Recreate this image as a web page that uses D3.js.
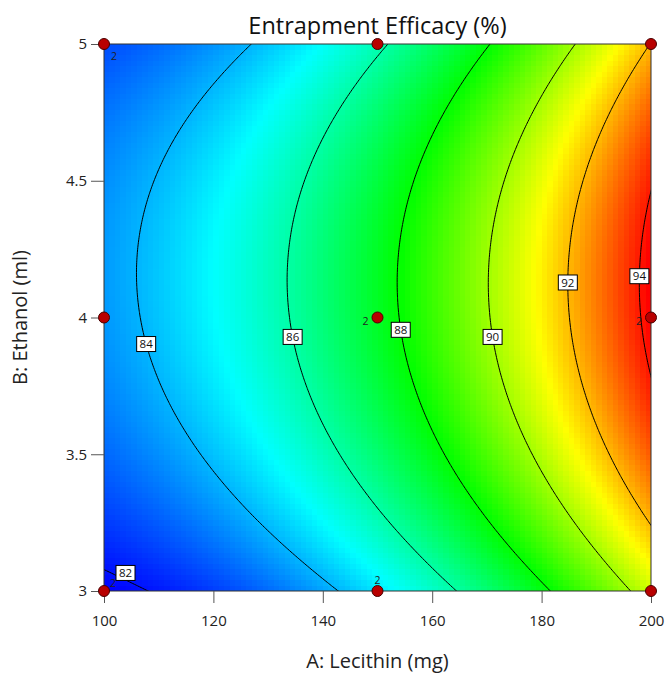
<!DOCTYPE html>
<html>
<head>
<meta charset="utf-8">
<script src="https://cdn.jsdelivr.net/npm/d3@7"></script>
<style>
  body { margin: 0; background: #fff; }
  svg text { font-family: "Open Sans", "Noto Sans", sans-serif; }
</style>
</head>
<body>
<svg id="chart" width="667" height="675"></svg>
<script>
// ---- Factor ranges (actual units) ----
const lecithinRange = [100, 200];      // A: Lecithin (mg)
const ethanolRange = [3, 5];           // B: Ethanol (ml)

// ---- Fitted response-surface model, coded factors a, b in [-1, 1] ----
const modelTerms        = ["Intercept", "A", "B", "AB", "A²", "B²", "AB²", "A²B²"];
const modelCoefficients = [87.57, 5.33, 0.61, 0.13, 1.40, -2.36, -0.80, 0.15];
const termPowerA        = [0, 1, 0, 1, 2, 0, 1, 2];
const termPowerB        = [0, 0, 1, 1, 0, 2, 2, 2];

// ---- Contour levels and the ethanol level where each label sits ----
const contourLevels = [82, 84, 86, 88, 90, 92, 94];
const labelEthanol  = [3.066, 3.903, 3.929, 3.955, 3.929, 4.128, 4.151];

// ---- Design points (runs) and replicate counts ----
const designLecithin = [100, 100, 100, 150, 150, 150, 200, 200, 200];
const designEthanol  = [3, 4, 5, 3, 4, 5, 3, 4, 5];
const designReps     = [2, 1, 2, 2, 2, 1, 1, 2, 1];

// ---- Axis ticks ----
const lecithinTicks = [100, 120, 140, 160, 180, 200];
const ethanolTicks  = [3, 3.5, 4, 4.5, 5];

const titleText = "Entrapment Efficacy (%)";
const xTitle = "A: Lecithin (mg)";
const yTitle = "B: Ethanol (ml)";

// ---------------------------------------------------------------
const W = 667, H = 675;
const margin = { top: 44, right: 16, bottom: 84, left: 104 };
const pw = W - margin.left - margin.right;
const ph = H - margin.top - margin.bottom;

const svg = d3.select("#chart");
const g = svg.append("g").attr("transform", `translate(${margin.left},${margin.top})`);

const x = d3.scaleLinear().domain(lecithinRange).range([0, pw]);
const y = d3.scaleLinear().domain(ethanolRange).range([ph, 0]);

// coded factor scales
const codeA = d3.scaleLinear().domain(lecithinRange).range([-1, 1]);
const codeB = d3.scaleLinear().domain(ethanolRange).range([-1, 1]);

function predict(A, B) {
  const a = codeA(A), b = codeB(B);
  let s = 0;
  for (let k = 0; k < modelCoefficients.length; k++) {
    s += modelCoefficients[k] * Math.pow(a, termPowerA[k]) * Math.pow(b, termPowerB[k]);
  }
  return s;
}

// ---- Colour cells ----
const nCells = 100;
const cellA = d3.scaleLinear().domain([0, nCells]).range(lecithinRange);
const cellB = d3.scaleLinear().domain([0, nCells]).range(ethanolRange);
const cells = [];
for (let j = 0; j < nCells; j++) {
  for (let i = 0; i < nCells; i++) {
    cells.push({ i, j, v: predict(cellA(i + 0.5), cellB(j + 0.5)) });
  }
}
const ext = d3.extent(cells, d => d.v);
const colorStops = ["#0000ff", "#00ffff", "#00ff00", "#ffff00", "#ff0000"];
const color = d3.scaleLinear()
  .domain(d3.range(colorStops.length).map(k => ext[0] + k * (ext[1] - ext[0]) / (colorStops.length - 1)))
  .range(colorStops)
  .clamp(true);

g.append("g").attr("shape-rendering", "crispEdges")
  .selectAll("rect").data(cells).join("rect")
  .attr("x", d => x(cellA(d.i)))
  .attr("y", d => y(cellB(d.j + 1)))
  .attr("width", d => x(cellA(d.i + 1)) - x(cellA(d.i)) + 0.3)
  .attr("height", d => y(cellB(d.j)) - y(cellB(d.j + 1)) + 0.3)
  .attr("fill", d => color(d.v));

// ---- Contour lines (computed over a slightly wider grid, then clipped) ----
svg.append("defs").append("clipPath").attr("id", "plotClip")
  .append("rect").attr("width", pw).attr("height", ph);

const N = 241;
const gridA = d3.scaleLinear().domain([0.5, N - 0.5]).range([lecithinRange[0] - 5, lecithinRange[1] + 5]);
const gridB = d3.scaleLinear().domain([0.5, N - 0.5]).range([ethanolRange[1] + 0.1, ethanolRange[0] - 0.1]);
const values = new Array(N * N);
for (let r = 0; r < N; r++) {
  for (let c = 0; c < N; c++) {
    values[r * N + c] = predict(gridA(c + 0.5), gridB(r + 0.5));
  }
}
const contours = d3.contours().size([N, N]).thresholds(contourLevels)(values);
const proj = d3.geoTransform({
  point: function (px, py) { this.stream.point(x(gridA(px)), y(gridB(py))); }
});
const path = d3.geoPath(proj);

g.append("g").attr("clip-path", "url(#plotClip)")
  .selectAll("path").data(contours).join("path")
  .attr("d", path)
  .attr("fill", "none")
  .attr("stroke", "#000")
  .attr("stroke-width", 1);

// ---- Contour labels ----
function lecithinOnContour(level, B) {
  let lo = lecithinRange[0], hi = lecithinRange[1];
  let flo = predict(lo, B) - level;
  for (let k = 0; k < 60; k++) {
    const mid = (lo + hi) / 2;
    const fm = predict(mid, B) - level;
    if ((fm < 0) === (flo < 0)) { lo = mid; flo = fm; } else { hi = mid; }
  }
  return (lo + hi) / 2;
}
const boxW = 19, boxH = 15;
const labels = g.append("g").selectAll("g")
  .data(contourLevels.map((lv, k) => ({ lv, A: lecithinOnContour(lv, labelEthanol[k]), B: labelEthanol[k] })))
  .join("g")
  // keep each box clear of the left frame and its corner run marker
  .attr("transform", d => `translate(${Math.max(x(d.A), boxW / 2 + 12)},${y(d.B)})`);
labels.append("rect")
  .attr("x", -boxW / 2).attr("y", -boxH / 2).attr("width", boxW).attr("height", boxH)
  .attr("fill", "#fff").attr("stroke", "#000").attr("stroke-width", 1);
labels.append("text")
  .attr("text-anchor", "middle").attr("dy", "0.36em")
  .attr("font-size", 11.5).attr("fill", "#111")
  .text(d => d.lv);

// ---- Frame ----
g.append("rect").attr("width", pw).attr("height", ph)
  .attr("fill", "none").attr("stroke", "#333").attr("stroke-width", 1);

// ---- Axes ----
const xAxis = g.append("g").attr("transform", `translate(0,${ph})`)
  .call(d3.axisBottom(x).tickValues(lecithinTicks).tickSize(12).tickPadding(12).tickFormat(d3.format("d")));
const yAxis = g.append("g")
  .call(d3.axisLeft(y).tickValues(ethanolTicks).tickSize(13).tickPadding(4).tickFormat(d => d));
[xAxis, yAxis].forEach(ax => {
  ax.select(".domain").remove();
  ax.selectAll(".tick line").attr("stroke", "#555");
  ax.selectAll(".tick text").attr("font-size", 15).attr("fill", "#222")
    .style("font-family", '"Open Sans", "Noto Sans", sans-serif');
});

// ---- Design points ----
const pts = designLecithin.map((A, k) => ({ A, B: designEthanol[k], reps: designReps[k] }));
const ptG = g.append("g");
ptG.selectAll("circle").data(pts).join("circle")
  .attr("cx", d => x(d.A)).attr("cy", d => y(d.B)).attr("r", 5.5)
  .attr("fill", "#b80000").attr("stroke", "#4a0000").attr("stroke-width", 1);

function repOffset(d) {
  if (d.A === lecithinRange[0]) return d.B === ethanolRange[1] ? [10, 12] : [9, -8];
  if (d.B === ethanolRange[0]) return [0, -11];
  return [-12, 4];
}
ptG.selectAll("text").data(pts.filter(d => d.reps > 1)).join("text")
  .attr("x", d => x(d.A) + repOffset(d)[0])
  .attr("y", d => y(d.B) + repOffset(d)[1])
  .attr("text-anchor", "middle").attr("dy", "0.35em")
  .attr("font-size", 10.5).attr("fill", "#222")
  .text(d => d.reps);

// ---- Titles ----
svg.append("text").attr("x", margin.left + pw / 2).attr("y", 34)
  .attr("text-anchor", "middle").attr("font-size", 23.5).attr("fill", "#111")
  .text(titleText);
svg.append("text").attr("x", margin.left + pw / 2).attr("y", 668)
  .attr("text-anchor", "middle").attr("font-size", 20).attr("fill", "#222")
  .text(xTitle);
svg.append("text")
  .attr("transform", `translate(27,${margin.top + ph / 2}) rotate(-90)`)
  .attr("text-anchor", "middle").attr("font-size", 20).attr("fill", "#222")
  .text(yTitle);
</script>
</body>
</html>
